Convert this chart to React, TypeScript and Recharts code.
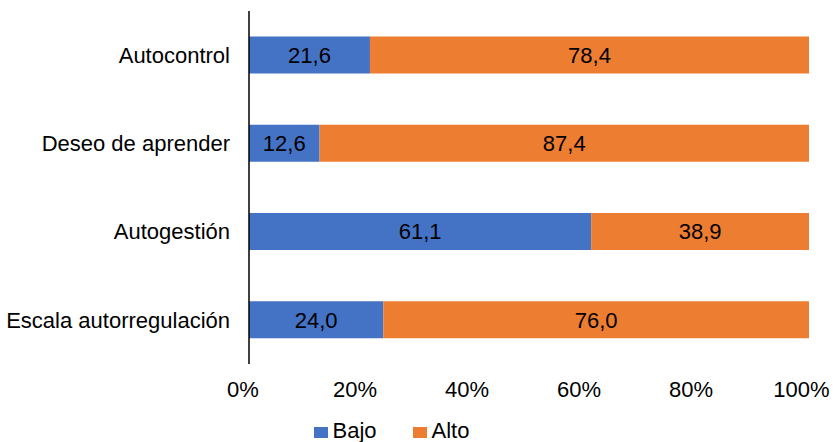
import { BarChart, Bar, XAxis, YAxis, Legend, LabelList } from 'recharts'

const categories = ['Autocontrol', 'Deseo de aprender', 'Autogestión', 'Escala autorregulación']
const bajo = [21.6, 12.6, 61.1, 24.0]
const alto = [78.4, 87.4, 38.9, 76.0]
const xTicks = [0, 20, 40, 60, 80, 100]
const seriesOrder = ['Bajo', 'Alto']

const data = categories.map((name, i) => ({ name, bajo: bajo[i], alto: alto[i] }))

const FONT = '"Liberation Sans", Arial, Helvetica, sans-serif'
const FS = 22
const BLUE = '#4472C4'
const ORANGE = '#ED7D31'

const fmt = (v: any) => Number(v).toFixed(1).replace('.', ',')

const LegendBox = ({ payload }: any) => {
  const items = [...(payload || [])].sort(
    (a: any, b: any) => seriesOrder.indexOf(a.value) - seriesOrder.indexOf(b.value)
  )
  return (
    <div style={{ display: 'flex', justifyContent: 'center', fontFamily: FONT, fontSize: FS, lineHeight: '22px', height: 22, color: '#000', paddingRight: 26 }}>
      {items.map((p: any) => (
        <div key={p.value} style={{ display: 'flex', alignItems: 'center', margin: '0 18px' }}>
          <span style={{ width: 14, height: 11, background: p.color, display: 'inline-block', marginRight: 5, marginTop: 3 }} />
          <span>{p.value}</span>
        </div>
      ))}
    </div>
  )
}

const App = () => {
  return (
    <div style={{ position: 'absolute', left: 0, top: 0, background: '#fff' }}>
      <BarChart
        width={833}
        height={442}
        data={data}
        layout="vertical"
        stackOffset="expand"
        barCategoryGap="29%"
        margin={{ top: 11, right: 24, left: 0, bottom: 0 }}
      >
        <XAxis
          type="number"
          domain={[0, 1]}
          ticks={xTicks.map((t) => t / 100)}
          tickFormatter={(v: number) => `${Math.round(v * 100)}%`}
          axisLine={false}
          tickLine={false}
          tickSize={0}
          tickMargin={17}
          height={56}
          tick={{ fill: '#000', fontSize: FS, fontFamily: FONT, dx: -6 }}
        />
        <YAxis
          type="category"
          dataKey="name"
          width={249}
          axisLine={{ stroke: '#000', strokeWidth: 1.5 }}
          tickLine={false}
          tickSize={0}
          tickMargin={19}
          tick={{ fill: '#000', fontSize: FS, fontFamily: FONT }}
        />
        <Legend verticalAlign="bottom" content={<LegendBox />} />
        <Bar dataKey="bajo" name="Bajo" stackId="a" fill={BLUE} isAnimationActive={false}>
          <LabelList dataKey="bajo" position="center" formatter={fmt} fill="#000" fontSize={FS} fontFamily={FONT} />
        </Bar>
        <Bar dataKey="alto" name="Alto" stackId="a" fill={ORANGE} isAnimationActive={false}>
          <LabelList dataKey="alto" position="center" formatter={fmt} fill="#000" fontSize={FS} fontFamily={FONT} />
        </Bar>
      </BarChart>
    </div>
  )
}

export default App
